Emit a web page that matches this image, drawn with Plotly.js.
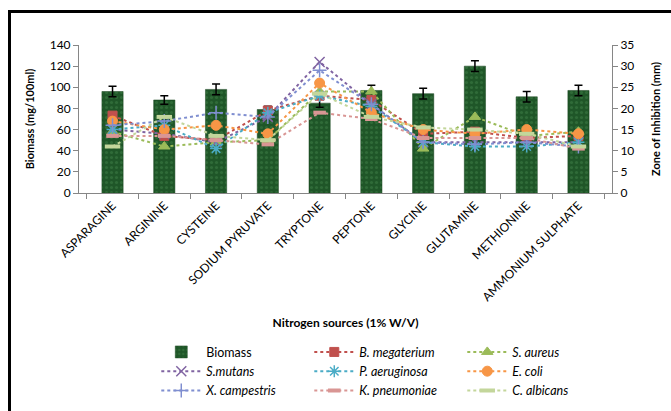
<!DOCTYPE html>
<html><head><meta charset="utf-8">
<script src="https://cdn.plot.ly/plotly-3.0.1.min.js"></script>
<style>
html,body{margin:0;padding:0;background:#fff;overflow:hidden;}
#frame{position:absolute;left:8px;top:10px;width:700px;height:450px;border:3px solid #000;box-sizing:border-box;}
#chart{position:absolute;left:0;top:0;width:671px;height:411px;}
</style></head>
<body>
<div id="frame"></div>
<div id="chart"></div>
<script>
const categories = ["ASPARAGINE","ARGININE","CYSTEINE","SODIUM PYRUVATE","TRYPTONE","PEPTONE","GLYCINE","GLUTAMINE","METHIONINE","AMMONIUM SULPHATE"];
const biomass      = [96, 88, 98, 79, 85, 97, 94, 120, 91, 97];
const biomassErr   = [5, 4, 5, 3, 4, 5, 5, 5, 5, 5];
const bMegaterium  = [18.3, 13.5, 12.5, 19.5, 23, 22, 14, 14.5, 13, 13.5];
const sAureus      = [14.5, 11, 12, 12.5, 24, 24, 10.5, 18, 13.5, 14.5];
const sMutans      = [15, 14, 12, 18, 31, 21, 12, 12, 12, 12];
const pAeruginosa  = [15, 16, 10.5, 19, 23, 20.5, 12, 11, 11, 12];
const eColi        = [17, 15, 16, 14, 26, 19, 15, 14, 15, 14];
const xCampestris  = [16, 17, 19, 18, 29, 21, 12, 11.5, 12, 11];
const kPneumoniae  = [13.5, 13.5, 12.5, 11.5, 19, 17.5, 13, 13, 13, 10.5];
const cAlbicans    = [11, 18, 13.5, 12.5, 23.5, 18, 15.5, 15, 14, 11];

const FONT = "Lato, 'Open Sans', sans-serif";

function lineTrace(name, y, color, symbol, size, extra) {
  const marker = Object.assign({symbol: symbol, size: size, color: color, line: {color: color, width: 1}}, extra || {});
  return {type: 'scatter', mode: 'lines+markers', name: name, x: categories, y: y, yaxis: 'y2',
    line: {color: color, width: 2, dash: 'dot'}, marker: marker};
}

const traces = [
  {type: 'bar', name: 'Biomass', x: categories, y: biomass,
   marker: {color: '#1f5628', line: {color: '#14401b', width: 0.5},
            pattern: {shape: '.', fgcolor: '#3f7f48', size: 5, solidity: 0.3, fillmode: 'overlay'}},
   error_y: {type: 'data', array: biomassErr, visible: true, color: '#000', thickness: 1.5, width: 4}},
  lineTrace('<i>B. megaterium</i>', bMegaterium, '#c0504d', 'square', 9),
  lineTrace('<i>S. aureus</i>', sAureus, '#9bbb59', 'triangle-up', 10),
  lineTrace('<i>S.mutans</i>', sMutans, '#8064a2', 'x-thin', 10, {line: {color: '#8064a2', width: 1.5}}),
  lineTrace('<i>P. aeruginosa</i>', pAeruginosa, '#4bacc6', 'asterisk', 10, {line: {color: '#4bacc6', width: 1.5}}),
  lineTrace('<i>E. coli</i>', eColi, '#f79646', 'circle', 10),
  lineTrace('<i>X. campestris</i>', xCampestris, '#7f8ed0', 'cross-thin', 10, {line: {color: '#7f8ed0', width: 1.5}}),
  lineTrace('<i>K. pneumoniae</i>', kPneumoniae, '#d99694', 'line-ew', 9, {line: {color: '#d99694', width: 4}}),
  lineTrace('<i>C. albicans</i>', cAlbicans, '#c3d69b', 'line-ew', 11, {line: {color: '#c3d69b', width: 4}})
];

const layout = {
  width: 671, height: 411,
  paper_bgcolor: 'rgba(0,0,0,0)', plot_bgcolor: 'rgba(0,0,0,0)',
  margin: {l: 79, r: 59, t: 45, b: 218, autoexpand: false},
  font: {family: FONT, size: 11, color: '#000'},
  bargap: 0.59,
  showlegend: true,
  xaxis: {
    type: 'category', tickangle: -45, tickfont: {size: 12, color: '#000'}, automargin: false,
    showline: true, linecolor: '#868686', linewidth: 1,
    ticks: 'outside', tickson: 'boundaries', ticklen: 5, tickcolor: '#868686',
    showgrid: false, zeroline: false,
    title: {text: '<b>Nitrogen sources (1% W/V)</b>', font: {size: 12}, standoff: 15}
  },
  yaxis: {
    range: [0, 140], dtick: 20, showgrid: false, zeroline: false, automargin: false,
    showline: true, linecolor: '#868686', ticks: 'outside', ticklen: 5, tickcolor: '#868686',
    tickfont: {size: 12, color: '#000'},
    title: {text: '<b>Biomass (mg/100ml)</b>', font: {size: 11}, standoff: 12}
  },
  yaxis2: {
    overlaying: 'y', side: 'right', range: [0, 35], dtick: 5, showgrid: false, zeroline: false, automargin: false,
    showline: true, linecolor: '#868686', ticks: 'outside', ticklen: 5, tickcolor: '#868686',
    tickfont: {size: 12, color: '#000'},
    title: {text: '<b>Zone of Inhibition (mm)</b>', font: {size: 11}, standoff: 18}
  },
  legend: {
    orientation: 'h', x: 0.145, y: -0.975, xanchor: 'left', yanchor: 'top',
    entrywidth: 98, entrywidthmode: 'pixels', font: {size: 12.5, color: '#000'},
    tracegroupgap: 0, itemwidth: 40, bgcolor: 'rgba(0,0,0,0)'
  }
};

Plotly.newPlot('chart', traces, layout, {displayModeBar: false, staticPlot: true});
</script>
</body></html>
